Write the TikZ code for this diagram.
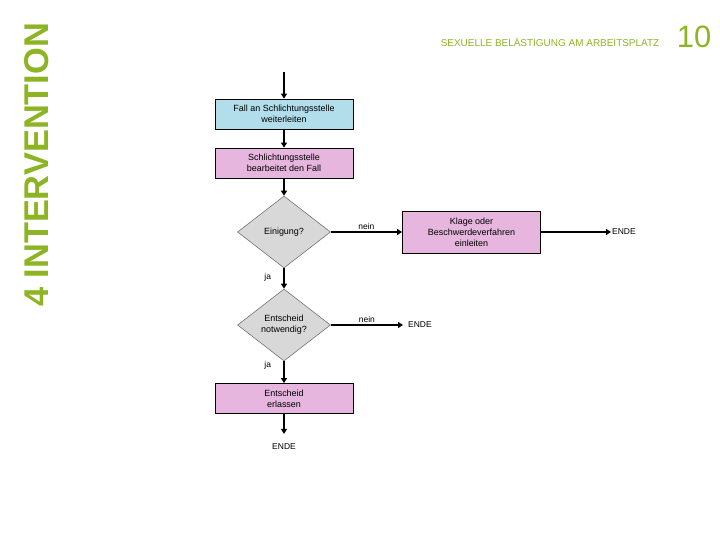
\documentclass[tikz,border=0pt]{standalone}
\usepackage{fontspec}
\setmainfont{Liberation Sans}
\usetikzlibrary{arrows.meta, shapes.geometric}
\definecolor{headgreen}{RGB}{140,180,35}
\definecolor{boxblue}{RGB}{178,222,236}
\definecolor{boxpink}{RGB}{230,182,222}
\definecolor{boxgray}{RGB}{216,216,216}
\tikzset{
  fbox/.style     = {rectangle, draw=black, line width=0.8bp, align=center,
                     font=\fontsize{9}{11}\selectfont, inner sep=2pt,
                     minimum width=138bp, minimum height=30bp},
  bluebox/.style  = {fbox, fill=boxblue},
  pinkbox/.style  = {fbox, fill=boxpink},
  decision/.style = {diamond, draw=black!55, line width=0.6bp, fill=boxgray,
                     align=center, font=\fontsize{9}{11}\selectfont,
                     inner sep=0pt, aspect=1.3,
                     minimum width=93bp, minimum height=72bp},
  arr/.style      = {-{Triangle[length=5bp, width=6bp]}, line width=2bp},
  lbl/.style      = {font=\fontsize{8.5}{10}\selectfont, inner sep=1pt},
}

\begin{document}
\begin{tikzpicture}[x=1bp, y=-1bp]
  \useasboundingbox (0,0) rectangle (720,540);
  % page header
  \node[font=\bfseries\fontsize{34.5}{34.5}\selectfont, text=headgreen, rotate=90]
    (kapitel) at (37,165) {4 INTERVENTION};
  \node[font=\fontsize{10}{10}\selectfont, text=headgreen]
    (titel) at (550,42) {SEXUELLE BELÄSTIGUNG AM ARBEITSPLATZ};
  \node[font=\fontsize{31}{31}\selectfont, text=headgreen]
    (seite) at (694,37) {10};

  % flow
  \coordinate (start) at (284,72);
  \node[bluebox] (weiter) at (284,114) {Fall an Schlichtungsstelle\\weiterleiten};
  \node[pinkbox] (bearb)  at (284,163) {Schlichtungsstelle\\bearbeitet den Fall};
  \node[decision] (einig) at (284,232) {Einigung?};
  \node[pinkbox, minimum height=42bp] (klage) at (471.5,232)
    {Klage oder\\Beschwerdeverfahren\\einleiten};
  \node[lbl, anchor=west] (ende1) at (611,232) {ENDE};
  \node[decision] (notw)  at (284,325) {Entscheid\\notwendig?};
  \node[lbl, anchor=west, inner xsep=5bp] (ende2) at (403,325) {ENDE};
  \node[pinkbox] (erlass) at (284,398.5) {Entscheid\\erlassen};
  \node[lbl] (ende3) at (284,447) {ENDE};

  \draw[arr] (start) -- (weiter);
  \draw[arr] (weiter) -- (bearb);
  \draw[arr] (bearb) -- (einig);
  \draw[arr] (einig.east) -- (klage.west) node[lbl, midway, above] {nein};
  \draw[arr] (klage.east) -- (ende1.west);
  \draw[arr] (einig.south) -- (notw.north) node[lbl, pos=0.45, left=11bp] {ja};
  \draw[arr] (notw.east) -- (ende2.west) node[lbl, midway, above] {nein};
  \draw[arr] (notw.south) -- (erlass.north) node[lbl, pos=0.2, left=11bp] {ja};
  \draw[arr, shorten >=9bp] (erlass.south) -- (ende3.north);
\end{tikzpicture}
\end{document}
